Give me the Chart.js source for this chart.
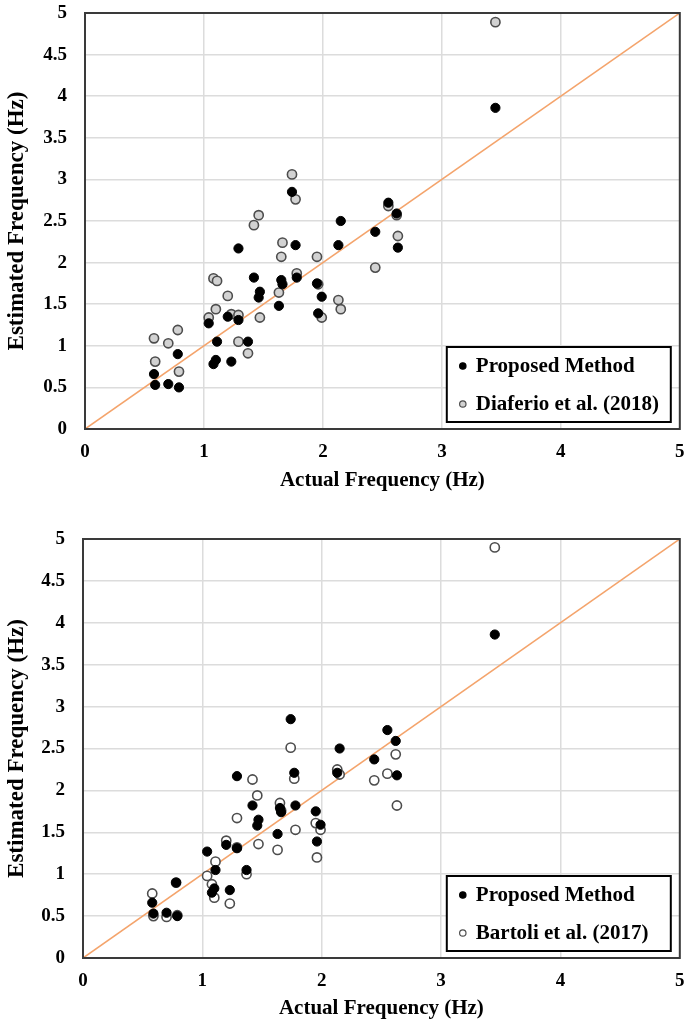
<!DOCTYPE html>
<html>
<head>
<meta charset="utf-8">
<script src="https://cdn.jsdelivr.net/npm/chart.js@4/dist/chart.umd.min.js"></script>
<style>
    html, body { margin: 0; padding: 0; background: #fff; }
    .box { width: 686px; height: 512px; }
</style>
</head>
<body>
<div class="box"><canvas id="chartTop" width="686" height="512"></canvas></div>
<div class="box"><canvas id="chartBottom" width="686" height="512"></canvas></div>
<script>
// actual frequency of each building (Hz), shared by every series
const actualFreq = [0.58, 0.59, 0.70, 0.78, 0.79, 1.04, 1.08, 1.10, 1.11, 1.20, 1.23,
    1.29, 1.29, 1.37, 1.42, 1.46, 1.47, 1.63, 1.65, 1.66, 1.74, 1.77, 1.78,
    1.95, 1.96, 1.99, 2.13, 2.15, 2.44, 2.55, 2.62, 2.63, 3.45];

const proposedEst = [0.66, 0.53, 0.54, 0.90, 0.50, 1.27, 0.78, 0.83, 1.05, 1.35, 0.81,
    1.31, 2.17, 1.05, 1.82, 1.58, 1.65, 1.48, 1.79, 1.74, 2.85, 2.21, 1.82,
    1.75, 1.39, 1.59, 2.21, 2.50, 2.37, 2.72, 2.59, 2.18, 3.86];

const diaferioEst = [1.09, 0.81, 1.03, 1.19, 0.69, 1.34, 1.81, 1.44, 1.78, 1.60, 1.38,
    1.37, 1.05, 0.91, 2.45, 2.57, 1.34, 1.64, 2.07, 2.24, 3.06, 2.76, 1.87,
    2.07, 1.74, 1.34, 1.55, 1.44, 1.94, 2.68, 2.57, 2.32, 4.89];

const bartoliEst = [0.77, 0.50, 0.49, 0.90, 0.51, 0.98, 0.88, 0.72, 1.15, 1.40, 0.65,
    1.67, 1.32, 1.00, 2.13, 1.94, 1.36, 1.29, 1.85, 1.76, 2.51, 2.14, 1.53,
    1.61, 1.20, 1.53, 2.25, 2.19, 2.12, 2.20, 2.43, 1.82, 4.90];

const diagonal = [0, 5];
const xTicks = [0, 1, 2, 3, 4, 5];
const yTicks = [0, 0.5, 1, 1.5, 2, 2.5, 3, 3.5, 4, 4.5, 5];

const serif = "'Liberation Serif', 'Times New Roman', serif";

const toPoints = (xs, ys) => xs.map((x, i) => ({ x: x, y: ys[i] }));

// frame round the plot + legend box in the lower right
const framePlugin = {
    id: 'frame',
    afterDraw(chart) {
        const ctx  = chart.ctx;
        const area = chart.chartArea;
        ctx.save();
        ctx.strokeStyle = '#3a3a3a';
        ctx.lineWidth = 2;
        ctx.strokeRect(area.left, area.top, area.right - area.left, area.bottom - area.top);

        const w = 224, h = 75;
        const bx = area.right - 9 - w;
        const by = area.bottom - 7 - h;
        ctx.fillStyle = '#fff';
        ctx.fillRect(bx, by, w, h);
        ctx.strokeStyle = '#000';
        ctx.lineWidth = 2;
        ctx.strokeRect(bx, by, w, h);

        const rows = [chart.data.datasets[1], chart.data.datasets[2]];
        rows.forEach((ds, i) => {
            const cy = by + 19 + i * 38;
            ctx.beginPath();
            ctx.arc(bx + 16, cy, 3.2, 0, Math.PI * 2);
            ctx.fillStyle = ds.backgroundColor;
            ctx.fill();
            ctx.lineWidth = 1.2;
            ctx.strokeStyle = ds.borderColor;
            ctx.stroke();
            ctx.fillStyle = '#000';
            ctx.font = `bold 21px ${serif}`;
            ctx.textBaseline = 'middle';
            ctx.textAlign = 'left';
            ctx.fillText(ds.label, bx + 29, cy + 1);
        });
        ctx.restore();
    }
};

const createChart = (id, refLabel, refValues, refFill, box) => {
    const ctx = document.getElementById(id);

    new Chart(ctx, {
        type: 'scatter',
        data: {
            datasets: [{
                label: 'Ideal',
                data: toPoints(diagonal, diagonal),
                showLine: true,
                borderColor: '#f4a46c',
                borderWidth: 1.6,
                pointRadius: 0,
                order: 3
            }, {
                label: 'Proposed Method',
                data: toPoints(actualFreq, proposedEst),
                backgroundColor: '#000',
                borderColor: '#000',
                borderWidth: 1,
                pointRadius: 4.6,
                order: 1
            }, {
                label: refLabel,
                data: toPoints(actualFreq, refValues),
                backgroundColor: refFill,
                borderColor: '#4d4d4d',
                borderWidth: 1.6,
                pointRadius: 4.6,
                order: 2
            }]
        },
        options: {
            responsive: false,
            animation: false,
            layout: {
                padding: { top: box.top, right: box.right, left: 0, bottom: 0 }
            },
            plugins: {
                legend: { display: false },
                tooltip: { enabled: false }
            },
            scales: {
                x: {
                    type: 'linear',
                    min: 0,
                    max: 5,
                    afterBuildTicks: (axis) => { axis.ticks = xTicks.map(v => ({ value: v })); },
                    afterFit: (axis) => {
                        axis.height = box.xHeight;
                        axis.paddingLeft = 0;
                        axis.paddingRight = 0;
                    },
                    grid: { color: '#dcdcdc', lineWidth: 1.5, drawTicks: false },
                    border: { display: false },
                    ticks: {
                        color: '#000',
                        padding: 12,
                        callback: (v) => String(v),
                        font: { family: serif, size: 19, weight: 'bold' }
                    },
                    title: {
                        display: true,
                        text: 'Actual Frequency (Hz)',
                        color: '#000',
                        padding: { top: 0, bottom: box.titlePad },
                        font: { family: serif, size: 21, weight: 'bold' }
                    }
                },
                y: {
                    type: 'linear',
                    min: 0,
                    max: 5,
                    afterBuildTicks: (axis) => { axis.ticks = yTicks.map(v => ({ value: v })); },
                    afterFit: (axis) => {
                        axis.width = box.left;
                        axis.paddingTop = 0;
                        axis.paddingBottom = 0;
                    },
                    grid: { color: '#dcdcdc', lineWidth: 1.5, drawTicks: false },
                    border: { display: false },
                    ticks: {
                        color: '#000',
                        padding: 18,
                        callback: (v) => String(v),
                        font: { family: serif, size: 19, weight: 'bold' }
                    },
                    title: {
                        display: true,
                        text: 'Estimated Frequency (Hz)',
                        color: '#000',
                        padding: { top: 3, bottom: 0 },
                        font: { family: serif, size: 23, weight: 'bold' }
                    }
                }
            }
        },
        plugins: [framePlugin]
    });
}

createChart('chartTop', 'Diaferio et al. (2018)', diaferioEst, '#d2d2d2',
    { top: 13, right: 6, left: 85, xHeight: 83, titlePad: 19 });
createChart('chartBottom', 'Bartoli et al. (2017)', bartoliEst, '#ffffff',
    { top: 27, right: 5, left: 83, xHeight: 66, titlePad: 3 });
</script>
</body>
</html>
